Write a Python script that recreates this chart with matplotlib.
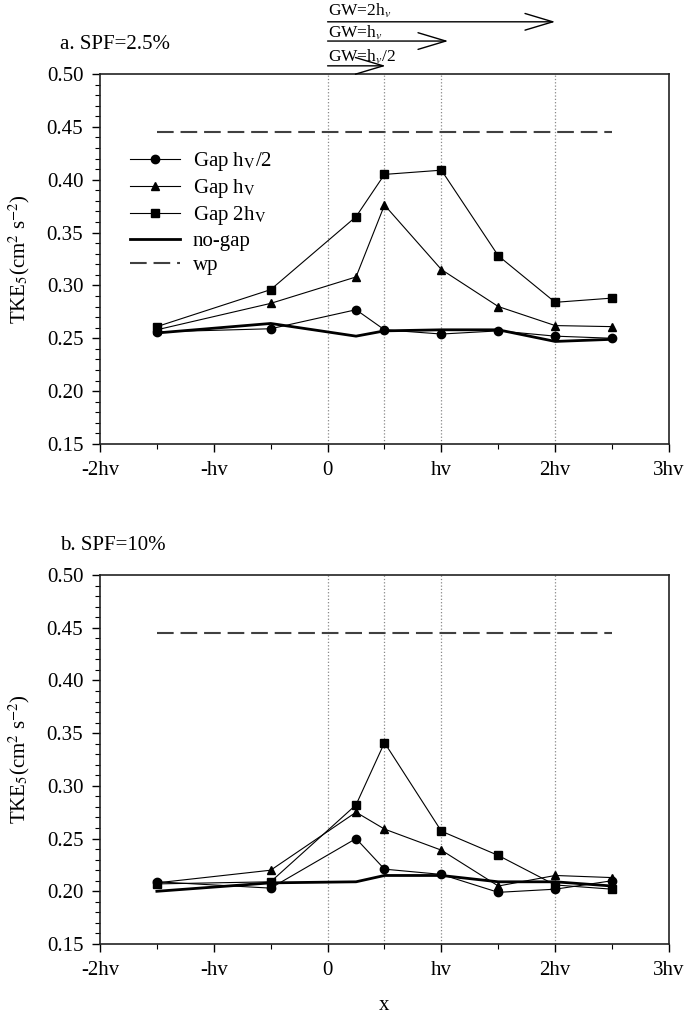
import numpy as np
import matplotlib
matplotlib.use("Agg")
import matplotlib.pyplot as plt
from matplotlib.ticker import MultipleLocator, FixedLocator

plt.rcParams['font.family'] = ['Liberation Serif', 'DejaVu Serif']
plt.rcParams['mathtext.fontset'] = 'stix'

# x positions in units of hv
x = [-1.5, -0.5, 0.25, 0.5, 1.0, 1.5, 2.0, 2.5]

# a. SPF=2.5%
a_half = [0.256, 0.259, 0.277, 0.258, 0.254, 0.257, 0.252, 0.250]
a_hv = [0.258, 0.283, 0.308, 0.376, 0.315, 0.280, 0.262, 0.261]
a_2hv = [0.261, 0.296, 0.365, 0.405, 0.409, 0.328, 0.284, 0.288]
a_nogap = [0.255, 0.264, 0.252, 0.257, 0.258, 0.258, 0.247, 0.249]

# b. SPF=10%
b_half = [0.209, 0.203, 0.250, 0.221, 0.216, 0.199, 0.202, 0.210]
b_hv = [0.208, 0.220, 0.275, 0.259, 0.239, 0.205, 0.215, 0.213]
b_2hv = [0.207, 0.209, 0.282, 0.341, 0.257, 0.234, 0.206, 0.202]
b_nogap = [0.200, 0.208, 0.209, 0.215, 0.215, 0.209, 0.209, 0.205]

wp_x = [-1.5, 2.5]
wp_y = 0.445

vlines = [0, 0.5, 1, 2]
xticks = [-2, -1, 0, 1, 2, 3]
xticklabels = ['-2hv', '-hv', '0', 'hv', '2hv', '3hv']

fig = plt.figure(figsize=(6.88, 10.19), dpi=100)
ax_a = fig.add_axes([0.1453, 0.5643, 0.8271, 0.3631])
ax_b = fig.add_axes([0.1453, 0.0736, 0.8271, 0.3621])


def draw_panel(ax, half, hv, two, nogap, title):
    for v in vlines:
        ax.axvline(v, color='#888888', linestyle=':', lw=0.9, zorder=0)
    ax.plot(x, half, color='black', lw=0.8, marker='o', ms=6, label=r'Gap h$_{\mathrm{V}}$/2')
    ax.plot(x, hv, color='black', lw=0.8, marker='^', ms=6, label=r'Gap h$_{\mathrm{V}}$')
    ax.plot(x, two, color='black', lw=0.8, marker='s', ms=6, label=r'Gap 2h$_{\mathrm{V}}$')
    ax.plot(x, nogap, color='black', lw=2.0, label='no-gap')
    ax.plot(wp_x, [wp_y, wp_y], color='#404040', lw=1.5, linestyle=(0, (8, 3.3)), label='wp')

    ax.set_xlim(-2, 3)
    ax.set_ylim(0.15, 0.50)
    ax.xaxis.set_major_locator(FixedLocator(xticks))
    ax.set_xticklabels(xticklabels)
    ax.xaxis.set_minor_locator(MultipleLocator(0.5))
    ax.yaxis.set_major_locator(MultipleLocator(0.05))
    ax.yaxis.set_minor_locator(MultipleLocator(0.01))
    ax.yaxis.set_major_formatter(plt.FormatStrFormatter('%.2f'))
    ax.tick_params(which='both', direction='out', top=False, right=False, labelsize=15, colors='black')
    ax.tick_params(which='major', length=6, width=1.0, pad=6)
    ax.tick_params(which='minor', length=3.5, width=0.8)
    for s in ax.spines.values():
        s.set_linewidth(1.2)
        s.set_color('#222222')
    ax.set_ylabel(r'TKE$_5$(cm$^2$ s$^{-2}$)', fontsize=15)
    ax.yaxis.set_label_coords(-0.12, 0.5)
    ax.text(-0.07, 1.081, title, transform=ax.transAxes, fontsize=15, va='center', ha='left')


draw_panel(ax_a, a_half, a_hv, a_2hv, a_nogap, 'a. SPF=2.5%')
draw_panel(ax_b, b_half, b_hv, b_2hv, b_nogap, 'b. SPF=10%')

ax_a.legend(loc='upper left', bbox_to_anchor=(0.02, 0.845), frameon=False, fontsize=15,
            handlelength=2.4, labelspacing=0.2, handletextpad=0.6)

ax_b.set_xlabel('x', fontsize=15, labelpad=12)

# gap width arrows above panel a
gw_labels = [r'GW=2h$_v$', r'GW=h$_v$', r'GW=h$_v$/2']
gw_ends = [2.0, 1.06, 0.51]
gw_arrow_y = [1.141, 1.089, 1.022]
gw_text_y = [1.172, 1.110, 1.046]
trans = ax_a.get_xaxis_transform()
for lab, xe, ya, yt in zip(gw_labels, gw_ends, gw_arrow_y, gw_text_y):
    ax_a.annotate('', xy=(xe, ya), xytext=(0, ya), xycoords=trans, textcoords=trans,
                  annotation_clip=False,
                  arrowprops=dict(arrowstyle='->,head_length=2.0,head_width=0.6',
                                  lw=1.0, color='black', shrinkA=0, shrinkB=0,
                                  mutation_scale=10))
    ax_a.text(0, yt, lab, transform=trans, fontsize=12.5, ha='left', va='center', clip_on=False)

fig.savefig('out.png', dpi=100)
